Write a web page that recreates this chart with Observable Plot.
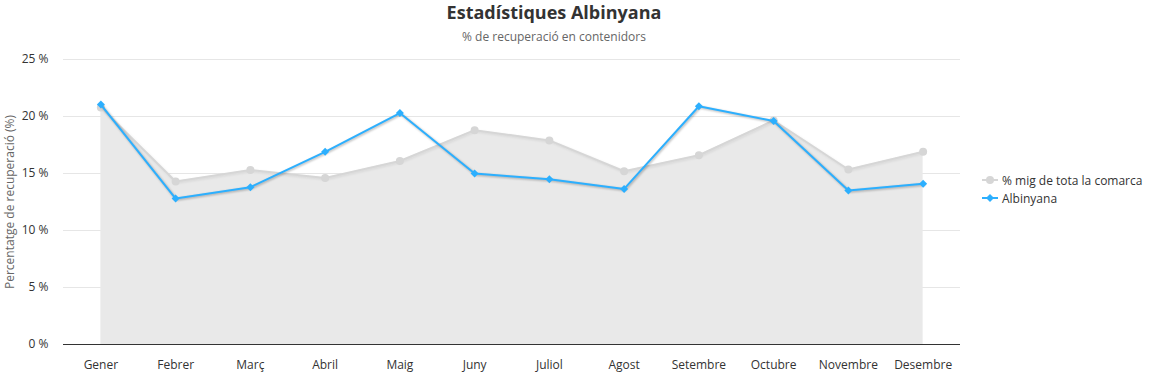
<!DOCTYPE html>
<html>
<head>
<meta charset="utf-8">
<script src="https://cdn.jsdelivr.net/npm/d3@7"></script>
<script src="https://cdn.jsdelivr.net/npm/@observablehq/plot@0.6"></script>
<style>
  body { margin: 0; background: #fff; font-family: "Open Sans", "Noto Sans", sans-serif; }
  #wrap { position: relative; width: 1153px; height: 375px; overflow: hidden; }
  #title { position: absolute; top: 1px; left: 354px; width: 400px; text-align: center; font-size: 18px; line-height: 22px; font-weight: 700; color: #333; }
  #subtitle { position: absolute; top: 29px; left: 354px; width: 400px; text-align: center; font-size: 12px; line-height: 16px; color: #666; }
  #chart { position: absolute; top: 50px; left: 0; }
  #legend { position: absolute; left: 982px; top: 171px; font-size: 12px; color: #333; }
  #legend .item { display: flex; align-items: center; height: 18px; }
  #legend svg { margin-right: 4px; }
  .shadow { filter: drop-shadow(1px 1.5px 1px rgba(0,0,0,0.3)); }
  .shadow-light { filter: drop-shadow(1px 1px 1px rgba(0,0,0,0.08)); }
</style>
</head>
<body>
<div id="wrap">
  <div id="title">Estadístiques Albinyana</div>
  <div id="subtitle">% de recuperació en contenidors</div>
  <div id="chart"></div>
  <div id="legend"></div>
</div>
<script>
const months = ["Gener","Febrer","Març","Abril","Maig","Juny","Juliol","Agost","Setembre","Octubre","Novembre","Desembre"];
const comarca = [20.8,14.3,15.3,14.6,16.1,18.8,17.9,15.2,16.6,19.65,15.35,16.9];
const albinyana = [21.05,12.8,13.8,16.9,20.3,15.0,14.5,13.65,20.9,19.6,13.5,14.1];
const yTicks = [0,5,10,15,20,25];
const seriesNames = ["% mig de tota la comarca","Albinyana"];
const colors = ["#d6d6d6","#2caffe"];

const dataC = months.map((m,i)=>({month:m, value:comarca[i]}));
const dataA = months.map((m,i)=>({month:m, value:albinyana[i]}));

const chart = Plot.plot({
  width: 1153,
  height: 325,
  marginLeft: 63,
  marginRight: 193,
  marginTop: 9,
  marginBottom: 31,
  style: {fontFamily: '"Open Sans", "Noto Sans", sans-serif', fontSize: "12px", color: "#333", background: "transparent", overflow: "visible"},
  x: {type: "point", domain: months, padding: 0.5, round: false},
  y: {domain: [0,25]},
  marks: [
    Plot.gridY(yTicks, {stroke: "#e6e6e6", strokeOpacity: 1}),
    Plot.areaY(dataC, {x: "month", y: "value", fill: "#e9e9e9", fillOpacity: 1}),
    Plot.lineY(dataC, {x: "month", y: "value", stroke: colors[0], strokeWidth: 2, className: "shadow-light"}),
    Plot.dot(dataC, {x: "month", y: "value", r: 4, fill: colors[0], stroke: "none"}),
    Plot.ruleY([0], {stroke: "#333", strokeWidth: 1}),
    Plot.lineY(dataA, {x: "month", y: "value", stroke: colors[1], strokeWidth: 2, className: "shadow"}),
    Plot.dot(dataA, {x: "month", y: "value", r: 3.6, symbol: "diamond2", fill: colors[1], stroke: "none"}),
    Plot.axisY(yTicks, {tickSize: 0, tickPadding: 15, tickFormat: d => d + " %", fill: "#333",
      label: "Percentatge de recuperació (%)", labelAnchor: "center", labelArrow: "none", labelOffset: 58}),
    Plot.axisX(months, {tickSize: 0, tickPadding: 16, label: null, fill: "#333"})
  ]
});
document.getElementById("chart").appendChild(chart);
chart.querySelectorAll("g[aria-label='y-axis label'] text, g[aria-label='y-axis label']").forEach(e=>e.setAttribute("fill","#666"));

const legend = document.getElementById("legend");
seriesNames.forEach((name,i)=>{
  const item = document.createElement("div");
  item.className = "item";
  const marker = i === 0
    ? `<circle cx="8" cy="6" r="4" fill="${colors[0]}"/>`
    : `<path d="M8 2 L12 6 L8 10 L4 6 Z" fill="${colors[1]}"/>`;
  item.innerHTML = `<svg width="16" height="12"><line x1="0" x2="16" y1="6" y2="6" stroke="${colors[i]}" stroke-width="2"/>${marker}</svg><span>${name}</span>`;
  legend.appendChild(item);
});
</script>
</body>
</html>
